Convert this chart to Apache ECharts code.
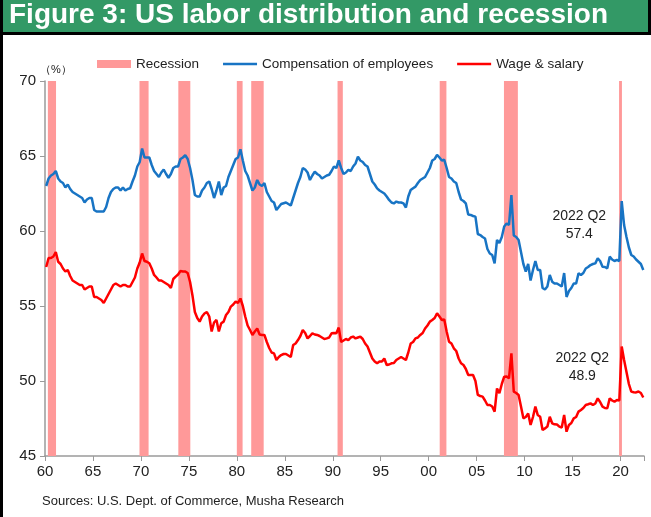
<!DOCTYPE html>
<html>
<head>
<meta charset="utf-8">
<script src="https://cdn.jsdelivr.net/npm/echarts@6/dist/echarts.min.js"></script>
<style>
  html, body { margin: 0; padding: 0; background: #fff; }
  #chart { width: 651px; height: 517px; }
</style>
</head>
<body>
<div id="chart"></div>
<script>
// quarterly, 1960Q1 .. 2022Q2
var startYear = 1960
var compensation = [
    63.0, 63.5, 63.7, 63.8,  64.0, 63.5, 63.3, 63.2,  62.9, 63.1, 62.8, 62.6,  62.5, 62.4, 62.3, 62.2,
    61.9, 62.1, 62.2, 62.2,  61.4, 61.3, 61.3, 61.3,  61.3, 61.6, 62.2, 62.6,  62.8, 62.9, 62.9, 62.7,
    62.9, 62.7, 62.8, 62.85, 63.3, 63.7, 64.3, 64.6,  65.5, 64.9, 64.9, 64.9,  64.4, 64.0, 63.8, 63.6,
    63.9, 64.1, 63.8, 63.55, 63.8, 64.2, 64.3, 64.3,  64.8, 64.9, 65.05, 64.8, 64.2, 63.4, 62.4, 62.3,
    62.3, 62.7, 62.9, 63.2,  63.3, 62.8, 62.2, 62.7,  63.3, 62.4, 62.9, 63.0,  63.6, 64.0, 64.4, 64.8,
    64.9, 65.45, 64.7, 64.0, 63.7, 63.2, 62.7, 62.9,  63.4, 63.1, 63.0, 63.2,  62.6, 62.3, 62.0, 61.9,
    61.4, 61.6, 61.8, 61.85, 61.9, 61.8, 61.7, 62.2,  62.7, 63.2, 63.6, 64.2,  64.1, 63.9, 63.4, 63.7,
    63.96, 63.8, 63.7, 63.5, 63.6, 63.7, 63.75, 64.0, 64.3, 64.2, 64.7, 64.2,  63.8, 63.9, 64.07, 64.0,
    64.3, 64.5, 64.96, 64.7, 64.6, 64.4, 64.3, 63.8,  63.3, 63.1, 62.84, 62.7, 62.6, 62.5, 62.3, 62.07,
    61.9, 61.84, 61.96, 61.9, 61.9, 61.84, 61.56, 62.3, 62.73, 62.85, 62.96, 63.2, 63.4, 63.5, 63.6, 63.9,
    64.2, 64.7, 64.8, 65.07, 64.9, 64.7, 64.75, 64.2, 63.6, 63.5, 63.3, 63.2,  62.6, 62.1, 62.0, 61.84,
    61.1, 61.07, 61.0, 60.96, 59.8, 59.73, 59.6, 59.5, 58.8, 58.5, 58.4, 57.84, 59.4, 59.2, 59.6, 60.3,
    60.5, 60.4, 62.4, 59.7,  59.6, 59.4, 58.6, 57.8,  57.3, 57.8, 56.7, 57.4,  58.0, 57.4, 57.4, 56.2,
    56.1, 56.3, 57.07, 56.62, 56.5, 56.5, 56.4, 56.3, 57.2, 55.6, 56.0, 56.2,  56.5, 56.5, 57.18, 57.07,
    57.2, 57.5, 57.6, 57.73, 57.8, 57.84, 58.18, 58.0, 57.62, 57.6, 57.51, 58.29, 58.1, 58.0, 58.07, 58.0,
    62.0, 60.4, 59.6, 58.9,  58.4, 58.3, 58.1, 57.95, 57.8, 57.4
]
var wageSalary = [
    57.6, 58.2, 58.2, 58.3,  58.6, 57.95, 57.8, 57.5, 57.3, 57.4, 57.0, 56.7,  56.6, 56.5, 56.4, 56.4,
    56.1, 56.2, 56.3, 56.3,  55.6, 55.6, 55.5, 55.4,  55.2, 55.5, 55.8, 56.1,  56.4, 56.5, 56.4, 56.3,
    56.4, 56.4, 56.3, 56.3,  56.6, 56.9, 57.5, 57.9,  58.5, 58.0, 57.95, 57.85, 57.5, 57.07, 56.9, 56.7,
    56.7, 56.6, 56.5, 56.4,  56.2, 56.8, 56.96, 57.1, 57.33, 57.3, 57.3, 57.2, 56.6, 55.7, 54.6, 54.2,
    53.96, 54.3, 54.5, 54.6, 54.3, 53.3, 53.9, 54.07, 53.3, 53.85, 53.96, 54.4, 54.6, 54.96, 55.1, 55.3,
    55.2, 55.5, 55.0, 54.3,  53.7, 53.4, 53.07, 53.3, 53.5, 53.1, 53.07, 53.07, 52.6, 52.2, 51.9, 51.84,
    51.4, 51.6, 51.73, 51.8, 51.8, 51.7, 51.6, 52.4,  52.5, 52.73, 53.0, 53.4, 53.2, 52.84, 53.0, 53.18,
    53.1, 53.07, 53.0, 52.9, 52.8, 52.84, 52.9, 53.18, 53.2, 53.18, 53.56, 52.6, 52.7, 52.8, 52.73, 52.9,
    52.96, 52.84, 52.9, 52.96, 52.8, 52.5, 52.3, 51.9, 51.5, 51.3, 51.18, 51.3, 51.3, 51.5, 51.07, 51.1,
    51.18, 51.2, 51.4, 51.5, 51.6, 51.5, 51.4, 51.9,  52.5, 52.6, 52.84, 52.9, 53.07, 53.2, 53.5, 53.7,
    53.96, 54.07, 54.2, 54.51, 54.3, 54.07, 54.1, 53.3, 52.62, 52.5, 52.18, 52.0, 51.5, 51.18, 51.07, 50.8,
    50.4, 50.4, 50.4, 50.0,  49.07, 49.0, 48.96, 48.7, 48.4, 48.4, 48.3, 47.96, 49.5, 49.18, 49.8, 50.29,
    50.3, 50.18, 51.84, 49.29, 49.2, 49.07, 48.3, 47.51, 47.6, 47.84, 47.07, 47.6, 48.29, 47.73, 47.62, 46.73,
    46.84, 46.96, 47.62, 47.18, 47.11, 47.1, 46.96, 46.9, 47.73, 46.62, 47.07, 47.2, 47.51, 47.6, 47.96, 48.07,
    48.2, 48.4, 48.45, 48.51, 48.4, 48.5, 48.84, 48.6, 48.29, 48.2, 48.18, 48.84, 48.7, 48.62, 48.73, 48.7,
    52.3, 51.4, 50.6, 49.8,  49.29, 49.25, 49.24, 49.3, 49.2, 48.9
]
var recessionStart = [1960.3, 1969.85, 1973.9, 1980.0, 1981.5, 1990.5, 2001.15, 2007.85, 2019.85]
var recessionEnd   = [1961.15, 1970.8, 1975.15, 1980.6, 1982.8, 1991.05, 2001.85, 2009.3, 2020.15]
var lastLabel = '2022 Q2'

function toPoints(vals) {
    return vals.map(function (v, i) { return [startYear + i / 4 + 0.125, v] })
}
var compPts = toPoints(compensation)
var wagePts = toPoints(wageSalary)

var recAreas = recessionStart.map(function (s, i) {
    return [{ xAxis: s }, { xAxis: recessionEnd[i] }]
})

function lastMark(pts, offset) {
    var p = pts[pts.length - 1]
    return {
        symbol: 'circle',
        symbolSize: 0,
        silent: true,
        label: {
            show: true,
            formatter: lastLabel + '\n' + p[1].toFixed(1),
            color: '#222',
            fontSize: 14,
            lineHeight: 18,
            fontFamily: 'Liberation Sans',
            offset: offset
        },
        data: [{ coord: p, value: p[1] }]
    }
}

var lineIcon = 'path://M0,0H34V2.5H0Z'

var chart = echarts.init(document.getElementById('chart'))

var option = {
    animation: false,
    backgroundColor: '#fff',
    textStyle: { fontFamily: 'Liberation Sans' },
    graphic: [
        { type: 'rect', shape: { x: 0, y: 0, width: 651, height: 33 }, style: { fill: '#339966' } },
        { type: 'rect', shape: { x: 0, y: 32, width: 651, height: 3 }, style: { fill: '#000' } },
        { type: 'rect', shape: { x: 0, y: 0, width: 3, height: 517 }, style: { fill: '#000' } },
        { type: 'rect', shape: { x: 648, y: 0, width: 3, height: 35 }, style: { fill: '#000' } },
        {
            type: 'text', left: 9, top: 1,
            style: {
                text: 'Figure 3: US labor distribution and recession',
                fill: '#fff', font: 'bold 28px "Liberation Sans"'
            }
        },
        {
            type: 'text', left: 40, top: 64,
            style: { text: '（%）', fill: '#222', font: '11px "Liberation Sans"' }
        },
        {
            type: 'text', left: 42, top: 495,
            style: {
                text: 'Sources: U.S. Dept. of Commerce, Musha Research',
                fill: '#222', font: '13px "Liberation Sans"'
            }
        }
    ],
    legend: {
        left: 92,
        top: 52,
        itemWidth: 34,
        itemHeight: 8,
        itemGap: 24,
        textStyle: { color: '#222', fontSize: 13.5 },
        data: [
            { name: 'Recession', icon: 'rect' },
            { name: 'Compensation of employees', icon: lineIcon },
            { name: 'Wage & salary', icon: lineIcon }
        ]
    },
    grid: { left: 45, right: 7, top: 81, bottom: 61 },
    xAxis: {
        type: 'value',
        min: 1960,
        max: 2022.45,
        interval: 5,
        splitLine: { show: false },
        axisLine: { lineStyle: { color: '#9a9a9a', width: 1.5 } },
        axisTick: { length: 5, lineStyle: { color: '#9a9a9a' } },
        axisLabel: {
            color: '#222',
            fontSize: 15,
            margin: 8,
            formatter: function (v) {
                if (v % 5 !== 0) return ''
                var s = String(v % 100)
                return s.length < 2 ? '0' + s : s
            }
        }
    },
    yAxis: {
        type: 'value',
        min: 45,
        max: 70,
        interval: 5,
        splitLine: { show: false },
        axisLine: { show: true, lineStyle: { color: '#9a9a9a', width: 1.5 } },
        axisTick: { show: true, length: 5, lineStyle: { color: '#9a9a9a' } },
        axisLabel: { color: '#222', fontSize: 15, margin: 9 }
    },
    series: [
        {
            name: 'Recession',
            type: 'line',
            data: [],
            z: 1,
            color: '#FF9999',
            markArea: {
                silent: true,
                itemStyle: { color: '#FF9999', opacity: 1 },
                data: recAreas
            }
        },
        {
            name: 'Compensation of employees',
            type: 'line',
            data: compPts,
            z: 3,
            symbol: 'none',
            color: '#1874C4',
            lineStyle: { width: 2.5, color: '#1874C4' },
            markPoint: lastMark(compPts, [-64, -45])
        },
        {
            name: 'Wage & salary',
            type: 'line',
            data: wagePts,
            z: 3,
            symbol: 'none',
            color: '#FF0000',
            lineStyle: { width: 2.5, color: '#FF0000' },
            markPoint: lastMark(wagePts, [-61, -30])
        }
    ]
}

chart.setOption(option)
</script>
</body>
</html>
